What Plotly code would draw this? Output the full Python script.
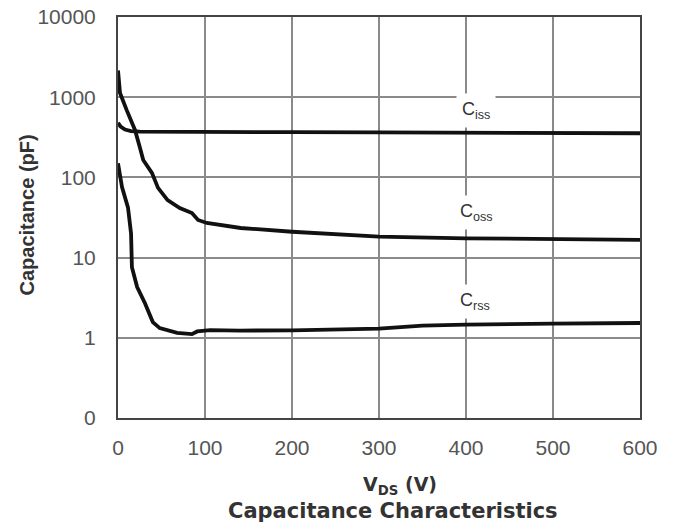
import math
import plotly.graph_objects as go

# Data
ciss_v = [0, 3, 8, 15, 25, 50, 100, 200, 300, 400, 500, 600]
ciss_c = [480, 430, 395, 378, 372, 370, 368, 366, 364, 362, 358, 355]

coss_v = [0, 2.3, 10, 19.5, 25, 29, 39, 46, 57, 71, 85, 92, 102, 117, 141, 200, 300, 400, 500, 600]
coss_c = [2150, 1130, 690, 390, 240, 165, 114, 74, 52, 41.5, 36, 29.5, 27, 25.5, 23.4, 21, 18.3, 17.4, 17, 16.6]

crss_v = [0, 4.6, 11.5, 15, 16, 22, 31, 40, 48, 68, 85, 91, 106, 140, 200, 300, 350, 400, 500, 600]
crss_c = [150, 76, 42, 20, 7.6, 4.3, 2.7, 1.57, 1.32, 1.15, 1.11, 1.2, 1.25, 1.23, 1.24, 1.3, 1.42, 1.46, 1.5, 1.53]

x_ticks = [0, 100, 200, 300, 400, 500, 600]
y_ticks = [0.1, 1, 10, 100, 1000, 10000]
y_ticktext = ["0", "1", "10", "100", "1000", "10000"]

labels = ["C<sub>iss</sub>", "C<sub>oss</sub>", "C<sub>rss</sub>"]
label_x = [412, 412, 410]
label_y = [690, 36, 2.8]

fig = go.Figure()
for v, c in [(ciss_v, ciss_c), (coss_v, coss_c), (crss_v, crss_c)]:
    fig.add_trace(go.Scatter(x=v, y=c, mode="lines",
                             line=dict(color="#111111", width=3.8),
                             showlegend=False))

for t, lx, ly in zip(labels, label_x, label_y):
    fig.add_annotation(x=lx, y=math.log10(ly), xref="x", yref="y", yanchor="middle",
                       text=t, showarrow=False,
                       font=dict(family="Liberation Sans, Arial", size=18, color="#333333"),
                       bgcolor="white", borderpad=5)

fig.add_annotation(x=0.54, y=0, xref="paper", yref="paper", xanchor="center", yanchor="middle",
                   yshift=-67, text="<b>V<sub>DS</sub> (V)</b>", showarrow=False,
                   font=dict(family="DejaVu Sans", size=19, color="#333333"))
fig.add_annotation(x=0.527, y=0, xref="paper", yref="paper", xanchor="center", yanchor="middle",
                   yshift=-93, text="<b>Capacitance Characteristics</b>", showarrow=False,
                   font=dict(family="DejaVu Sans", size=21, color="#333333"))
fig.add_annotation(x=0, y=0.505, xref="paper", yref="paper", xanchor="center", yanchor="middle",
                   xshift=-91, textangle=-90, text="<b>Capacitance (pF)</b>", showarrow=False,
                   font=dict(family="Liberation Sans, Arial", size=20, color="#333333"))

fig.update_layout(
    width=675, height=522,
    margin=dict(l=118, r=35, t=17, b=104),
    paper_bgcolor="white", plot_bgcolor="white",
    font=dict(family="Liberation Sans, Arial", color="#444444"),
    xaxis=dict(range=[0, 600], tickvals=x_ticks, showgrid=True, gridcolor="#8a8a8a", gridwidth=1.5,
               showline=True, linecolor="#444444", linewidth=2, mirror=True, zeroline=False,
               automargin=False, ticks="", ticklabelstandoff=10,
               tickfont=dict(size=21, color="#555555")),
    yaxis=dict(type="log", range=[-1, 4], tickvals=y_ticks, ticktext=y_ticktext,
               showgrid=True, gridcolor="#8a8a8a", gridwidth=1.5,
               showline=True, linecolor="#444444", linewidth=2, mirror=True, zeroline=False,
               automargin=False, ticks="", ticklabelstandoff=16,
               tickfont=dict(size=21, color="#555555")),
)

fig.write_html("out.html", config={"displayModeBar": False},
               post_script="document.body.style.margin='0px';")
